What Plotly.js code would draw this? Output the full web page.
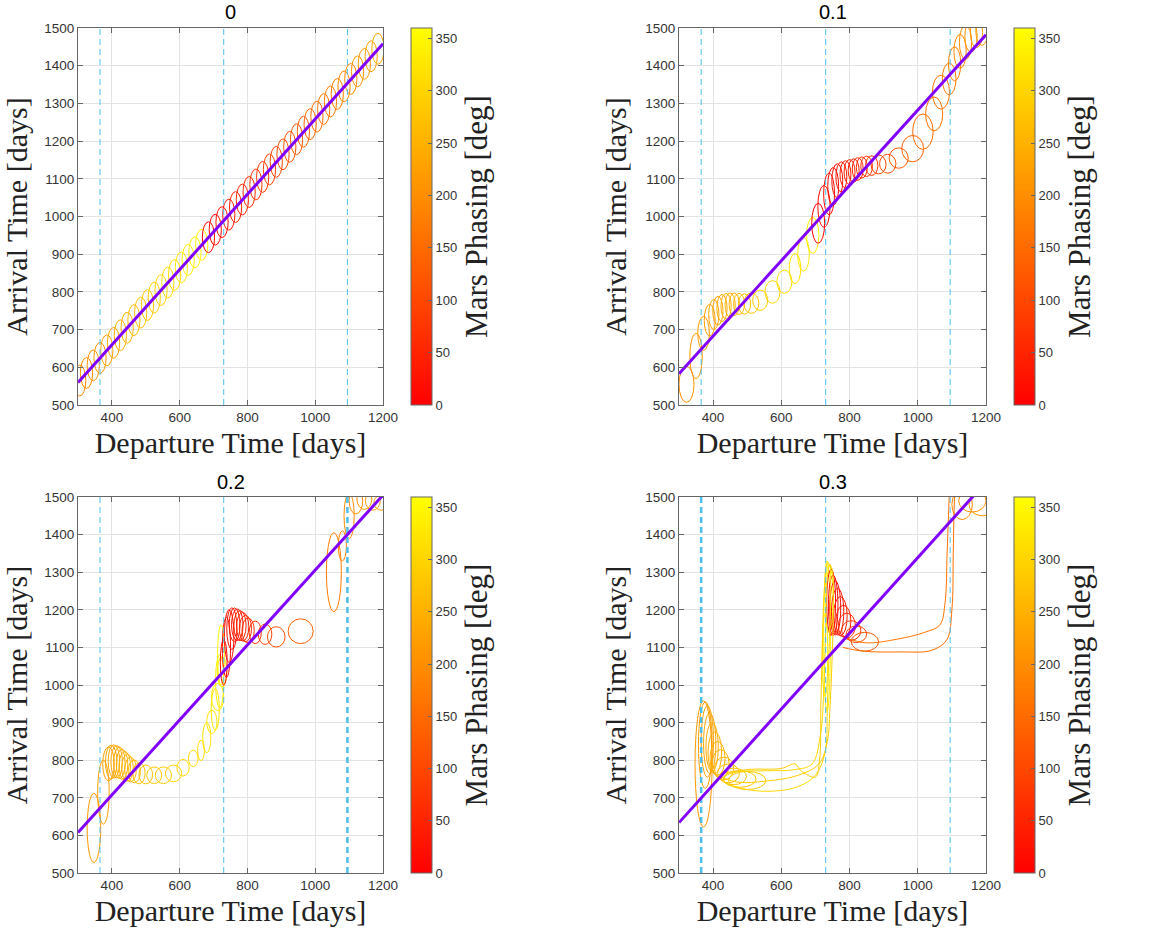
<!DOCTYPE html>
<html>
<head>
<meta charset="utf-8">
<script src="https://cdn.plot.ly/plotly-3.0.1.min.js"></script>
<style>html,body{margin:0;padding:0;background:#fff}#chart{width:1157px;height:938px}</style>
</head>
<body>
<div id="chart"></div>
<script>
// ---------------- data ----------------
const panelTitles = ['0', '0.1', '0.2', '0.3'];
const xTickVals = [400, 600, 800, 1000, 1200];
const yTickVals = [500, 600, 700, 800, 900, 1000, 1100, 1200, 1300, 1400, 1500];
const cbTickVals = [0, 50, 100, 150, 200, 250, 300, 350];
const xRange = [300, 1200];
const yRange = [500, 1500];
const phaseRange = [0, 360];
const resonanceX = [365, 730, 1095];

// reference (purple) line end points
const refLineX = [300, 1200];
const refLineY1 = [560, 1458];
const refLineY2 = [583, 1482];
const refLineY3 = [608, 1505];
const refLineY4 = [634, 1540];

// loops: centre (x,y), half-width, half-height, Mars phasing [deg]
const p1LoopX = [305,325,345,365,385,405,425,445,465,485,505,525,545,565,585,605,625,645,665,685,705,725,745,765,785,805,825,845,865,885,905,925,945,965,985,1005,1025,1045,1065,1085,1105,1125,1145,1165,1185];
const p1LoopY = [565,585,605,625,645,665,685,705,725,745,765,785,805,825,845,865,885,905,925,945,965,985,1005,1025,1045,1065,1085,1105,1125,1145,1165,1185,1205,1225,1245,1265,1285,1305,1325,1345,1365,1385,1405,1425,1445];
const p1LoopW = [18,18,18,18,18,18,18,18,18,18,18,18,18,18,18,18,18,18,18,18,18,18,18,18,18,18,18,18,18,18,18,18,18,18,18,18,18,18,18,18,18,18,18,18,18];
const p1LoopH = [41,41,41,41,41,41,41,41,41,41,41,41,41,41,41,41,41,41,41,41,41,41,41,41,41,41,41,41,41,41,41,41,41,41,41,41,41,41,41,41,41,41,41,41,41];
const p1LoopP = [189,198,208,217,226,235,245,254,263,272,282,291,300,309,318,328,337,346,355,5,14,23,32,42,51,60,69,78,88,97,106,115,125,134,143,152,162,171,180,189,198,208,217,226,235];

const p2LoopX = [322,350,372,390,402,414,426,438,450,462,476,492,512,538,574,609,640,665,692,708,725,740,752,764,776,788,800,812,824,836,850,865,885,912,944,985,1015,1048,1068,1092,1108,1124,1140,1156,1172,1188];
const p2LoopY = [555,630,690,725,740,750,757,762,765,767,768,768,770,778,800,827,862,900,950,982,1027,1060,1080,1095,1105,1112,1118,1122,1126,1130,1133,1135,1138,1140,1155,1180,1225,1272,1330,1365,1405,1438,1462,1478,1488,1494];
const p2LoopW = [22,18,17,16,15,15,15,15,15,15,16,18,22,22,22,22,17,17,18,19,18,16,16,16,16,16,16,16,16,16,17,18,22,24,28,32,30,25,25,20,18,18,18,18,18,18];
const p2LoopH = [48,60,45,42,40,38,36,34,32,30,28,27,27,27,30,31,40,45,48,53,55,55,50,45,40,36,33,31,30,28,27,26,25,25,27,35,47,45,45,42,45,45,45,42,40,40];
const p2LoopP = [200,210,218,225,230,235,240,245,250,255,262,270,280,290,300,312,322,332,345,2,8,14,20,26,32,38,44,50,56,62,68,75,95,110,125,140,150,160,168,176,184,192,200,208,216,224];

const p3LoopX = [347,375,390,398,406,414,422,430,438,446,455,466,480,500,525,552,582,610,640,663,680,695,705,712,718,725,722,730,738,746,754,762,770,778,786,794,802,823,852,885,957,1055,1080,1100,1120,1145,1170,1195];
const p3LoopY = [620,715,790,795,797,796,793,789,785,780,775,770,765,762,760,760,765,780,805,826,860,902,935,968,1010,1035,1080,1060,1100,1130,1150,1160,1160,1158,1155,1150,1145,1140,1135,1128,1143,1300,1370,1450,1490,1495,1490,1485];
const p3LoopW = [20,17,17,17,17,17,17,17,17,17,17,18,18,20,22,24,24,18,14,10,12,15,12,18,12,14,10,10,12,14,15,16,17,18,18,18,18,18,20,26,37,22,12,15,20,22,22,22];
const p3LoopH = [92,85,45,45,44,43,42,40,38,36,33,30,28,25,22,22,22,22,22,27,40,31,55,36,70,40,80,60,80,70,55,45,42,40,38,35,33,30,27,27,33,105,40,60,35,28,25,20];
const p3LoopP = [215,222,228,232,236,240,244,248,252,256,260,265,270,276,282,288,295,302,308,314,318,324,328,332,336,340,350,5,12,18,24,30,36,42,48,55,62,75,95,115,140,175,185,195,205,212,220,228];

const p4LoopX = [372,377,383,390,397,405,413,422,432,445,460,478,500,728,734,740,746,752,758,765,773,782,792,805,820,845,1130,1160,1190];
const p4LoopY = [790,840,850,845,835,820,805,790,778,765,757,750,746,1080,1130,1230,1220,1212,1205,1195,1183,1170,1158,1145,1135,1115,1480,1490,1480];
const p4LoopW = [25,20,18,18,18,20,22,25,28,32,38,48,55,8,10,12,13,14,16,18,20,22,25,28,30,40,30,40,40];
const p4LoopH = [168,115,95,80,65,55,45,38,30,25,22,22,24,110,200,90,88,80,72,62,52,42,33,26,22,25,40,30,30];
const p4LoopP = [215,222,228,234,240,245,250,255,260,265,270,275,282,330,340,352,5,12,20,28,36,45,55,70,90,120,195,205,215];

// long stretched trajectories in the 0.3 panel
const p4Curve1X = [430,500,580,650,700,728,735,740,745,742,735,730,725,715,690,640,560,480,440,430];
const p4Curve1Y = [745,722,718,730,760,820,950,1100,1250,1320,1290,1150,1000,870,790,775,772,770,760,745];
const p4Curve2X = [420,500,600,640,660,700,712,716,720,726,736,748,752,748,742,735,710,650,560,470,420];
const p4Curve2Y = [760,775,778,790,770,755,800,950,1100,1250,1325,1310,1200,1050,930,850,790,760,745,742,760];
const p4Curve3X = [790,850,940,1020,1065,1080,1086,1090,1094];
const p4Curve3Y = [1125,1112,1122,1140,1160,1220,1350,1450,1560];
const p4Curve4X = [780,840,950,1040,1085,1100,1104,1106,1110];
const p4Curve4Y = [1100,1090,1088,1092,1120,1200,1350,1450,1560];
const p4CurveP = [305, 290, 165, 160];

// ---------------- layout geometry / style ----------------
const W = 1157, H = 938;
const colX = [[78, 383], [679, 986]];
const rowY = [[28, 405], [497, 873]];
const cbLeft = [411, 1014];
const cbThick = 21;
const titleCenterY = [12, 482];
const resonanceWidths = [[1,1,1],[1,1,1],[1,1,2.5],[2.5,1,1]];

const serif = 'Liberation Serif, Times New Roman, serif';
const sans = 'Liberation Sans, Arial, Helvetica, sans-serif';
const purple = 'rgb(128,0,255)';
const cyan = 'rgb(77,190,238)';
const autumnScale = [[0, 'rgb(255,0,0)'], [1, 'rgb(255,255,0)']];

function autumn(p) {
  const g = Math.round(255 * (p - phaseRange[0]) / (phaseRange[1] - phaseRange[0]));
  return 'rgb(255,' + g + ',0)';
}

const panels = [
  {x: p1LoopX, y: p1LoopY, w: p1LoopW, h: p1LoopH, p: p1LoopP, ref: refLineY1},
  {x: p2LoopX, y: p2LoopY, w: p2LoopW, h: p2LoopH, p: p2LoopP, ref: refLineY2},
  {x: p3LoopX, y: p3LoopY, w: p3LoopW, h: p3LoopH, p: p3LoopP, ref: refLineY3},
  {x: p4LoopX, y: p4LoopY, w: p4LoopW, h: p4LoopH, p: p4LoopP, ref: refLineY4}
];

const traces = [];
const shapes = [];
const annotations = [];
const layout = {
  width: W, height: H,
  margin: {l: 0, r: 0, t: 0, b: 0},
  paper_bgcolor: '#fff', plot_bgcolor: '#fff',
  showlegend: false,
  font: {family: sans, color: '#262626'}
};

panels.forEach((pn, i) => {
  const col = i % 2, row = Math.floor(i / 2);
  const sfx = i === 0 ? '' : String(i + 1);
  const xa = 'x' + sfx, ya = 'y' + sfx;
  const xd = [colX[col][0] / W, colX[col][1] / W];
  const yd = [1 - rowY[row][1] / H, 1 - rowY[row][0] / H];

  const axisCommon = {
    showline: true, linecolor: '#666', linewidth: 1, mirror: 'ticks',
    ticks: 'inside', ticklen: 5, tickcolor: '#666', tickwidth: 1,
    showgrid: true, gridcolor: '#e3e3e3', gridwidth: 1, zeroline: false,
    tickfont: {family: sans, size: 13.5, color: '#333'},
    fixedrange: true
  };
  layout['xaxis' + sfx] = Object.assign({}, axisCommon, {
    domain: xd, anchor: ya, range: xRange, tickvals: xTickVals,
    title: {text: 'Departure Time [days]', font: {family: serif, size: 30, color: '#222'}, standoff: 7}
  });
  layout['yaxis' + sfx] = Object.assign({}, axisCommon, {
    domain: yd, anchor: xa, range: yRange, tickvals: yTickVals,
    title: {text: 'Arrival Time [days]', font: {family: serif, size: 30, color: '#222'}, standoff: 9}
  });

  // loops
  for (let j = 0; j < pn.x.length; j++) {
    shapes.push({
      type: 'circle', xref: xa, yref: ya, layer: 'between',
      x0: pn.x[j] - pn.w[j], x1: pn.x[j] + pn.w[j],
      y0: pn.y[j] - pn.h[j], y1: pn.y[j] + pn.h[j],
      line: {color: autumn(pn.p[j]), width: 1}
    });
  }

  if (i === 3) {
    const cx = [p4Curve1X, p4Curve2X, p4Curve3X, p4Curve4X];
    const cy = [p4Curve1Y, p4Curve2Y, p4Curve3Y, p4Curve4Y];
    cx.forEach((arr, k) => {
      traces.push({
        type: 'scatter', mode: 'lines', x: arr, y: cy[k], xaxis: xa, yaxis: ya,
        line: {color: autumn(p4CurveP[k]), width: 1, shape: 'spline', smoothing: 1},
        hoverinfo: 'skip'
      });
    });
  }

  // resonance dashed lines
  resonanceX.forEach((rx, k) => {
    traces.push({
      type: 'scatter', mode: 'lines', x: [rx, rx], y: yRange, xaxis: xa, yaxis: ya,
      line: {color: cyan, width: resonanceWidths[i][k], dash: '6px,4px'},
      hoverinfo: 'skip'
    });
  });

  // reference line
  traces.push({
    type: 'scatter', mode: 'lines', x: refLineX, y: pn.ref, xaxis: xa, yaxis: ya,
    line: {color: purple, width: 3}, hoverinfo: 'skip'
  });

  // colorbar carrier
  traces.push({
    type: 'scatter', mode: 'markers', x: [xRange[0] - 100], y: [yRange[0] - 100],
    xaxis: xa, yaxis: ya, hoverinfo: 'skip',
    marker: {
      color: [phaseRange[0]], cmin: phaseRange[0], cmax: phaseRange[1],
      colorscale: autumnScale, showscale: true, size: 1,
      colorbar: {
        x: cbLeft[col] / W, xanchor: 'left', xpad: 0, ypad: 0,
        y: 1 - (rowY[row][0] + rowY[row][1]) / 2 / H, yanchor: 'middle',
        len: (rowY[row][1] - rowY[row][0]) / H, lenmode: 'fraction',
        thickness: cbThick, thicknessmode: 'pixels',
        outlinewidth: 1, outlinecolor: '#666',
        tickvals: cbTickVals, ticks: 'inside', ticklen: 4, tickcolor: '#666',
        tickfont: {family: sans, size: 13, color: '#333'},
        title: {text: 'Mars Phasing [deg]', side: 'right', font: {family: serif, size: 31, color: '#222'}}
      }
    }
  });

  annotations.push({
    xref: 'paper', yref: 'paper',
    x: (xd[0] + xd[1]) / 2, y: 1 - titleCenterY[row] / H,
    xanchor: 'center', yanchor: 'middle', showarrow: false,
    text: panelTitles[i], font: {family: sans, size: 20, color: '#000'}
  });
});

layout.shapes = shapes;
layout.annotations = annotations;

Plotly.newPlot('chart', traces, layout, {staticPlot: true, displayModeBar: false});
</script>
</body>
</html>
